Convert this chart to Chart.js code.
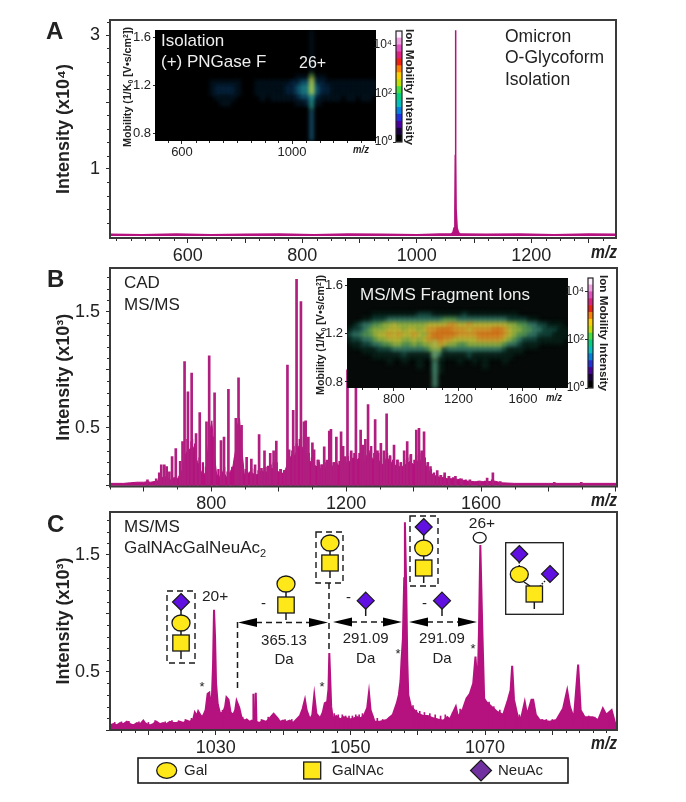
<!DOCTYPE html>
<html><head><meta charset="utf-8">
<style>
html,body{margin:0;padding:0;background:#fff;overflow:hidden}
#page{position:relative;width:686px;height:802px;overflow:hidden;font-family:"Liberation Sans",Arial,sans-serif}
canvas{position:absolute}
svg{position:absolute;left:0;top:0;pointer-events:none}
</style>
<script src="https://cdn.jsdelivr.net/npm/chart.js@4"></script>
</head><body><div id="page">
<canvas id="chartA"></canvas><canvas id="chartB"></canvas><canvas id="chartC"></canvas>
<canvas id="insetA"></canvas><canvas id="insetB"></canvas><canvas id="barA"></canvas><canvas id="barB"></canvas>
<svg id="ov" width="686" height="802"></svg>
</div>
<script>
// ---------- Panel A spectrum ----------
const aMz=[464,520,580,640,700,760,820,880,940,1000,1040,1060,1063,1065,1066.5,1067.2,1067.6,1068.2,1068.7,1070.5,1073,1076,1080,1120,1180,1240,1300,1348];
const aI=[.025,.02,.03,.02,.025,.03,.02,.03,.025,.02,.03,.03,.05,.12,.4,1.2,3.07,1.2,.4,.12,.05,.03,.03,.025,.03,.02,.03,.025];
// ---------- Panel B spectrum: continuum + sticks ----------
const bEnvMz=[500,540,560,580,600,612,620,640,650,660,670,680,690,700,708,716,722,730,738,746,752,760,768,776,784,790,797,802,808,816,824,832,840,848,856,864,872,878,884,890,898,906,914,922,930,940,950,960,970,980,990,1000,1010,1020,1030,1040,1048,1056,1064,1072,1080,1090,1100,1110,1120,1130,1140,1150,1160,1170,1180,1190,1200,1210,1220,1230,1240,1250,1260,1270,1280,1290,1300,1310,1320,1330,1340,1350,1360,1370,1380,1390,1400,1410,1420,1430,1440,1450,1460,1470,1480,1490,1500,1520,1540,1560,1580,1600,1620,1640,1660,1700,1800,1900,2000];
const bEnvI=[.02,.02,.025,.03,.03,.035,.03,.04,.06,.08,.07,.05,.07,.06,.10,.14,.26,.30,.32,.34,.26,.20,.14,.08,.12,.30,.48,.56,.30,.10,.07,.12,.10,.06,.12,.16,.30,.52,.58,.34,.10,.09,.12,.11,.09,.10,.13,.11,.13,.15,.14,.12,.10,.14,.22,.27,.26,.32,.36,.32,.28,.22,.19,.17,.15,.15,.16,.16,.17,.17,.18,.19,.18,.21,.24,.22,.24,.19,.22,.28,.22,.26,.20,.18,.24,.22,.17,.18,.16,.17,.19,.21,.18,.21,.22,.20,.16,.11,.09,.08,.07,.07,.06,.06,.05,.04,.035,.035,.035,.04,.025,.02,.02,.02,.02];
const bPeakMz=[614,640,649,655,664,671,679,687,698,711,718,724,734,745,758,769,789,797,813,832,841,854,876,884,893,908,922,933,945,952,961,970,978,988,996,1009,1020,1029,1034,1046,1056,1069,1078,1083,1091,1103,1108,1121,1130,1138,1146,1153,1158,1166,1174,1188,1194,1200,1207,1218,1232,1246,1252,1260,1268,1276,1289,1296,1306,1315,1323,1333,1345,1355,1365,1375,1384,1395,1411,1419,1427,1434,1445,1453,1462,1473,1484,1495,1508,1527,1545,1570,1600,1621,1638,1660,1820,1900];
const bPeakI=[.05,.06,.11,.18,.18,.165,.12,.25,.32,.21,.38,1.07,.81,.97,.45,.63,.55,1.12,.80,.39,.42,.83,.58,.93,.52,.245,.23,.18,.44,.15,.30,.16,.28,.30,.385,.14,.13,1.04,.31,.65,1.78,1.587,.55,.56,.42,.37,.31,.22,.18,.336,.22,.47,.485,.2,.42,.465,.34,.25,1.0,.3,.95,.48,.35,.4,.70,.3,.57,.3,.365,.3,.62,.25,.35,.22,.2,.3,.38,.27,.48,.495,.3,.465,.2,.165,.1,.13,.09,.11,.08,.08,.06,.05,.04,.066,.11,.035,.03,.03];
const bSmallMz=[727,739,741,750,763,773,782,793,805,819,827,836,846,860,868,900,904,916,927,938,956,966,974,983,992,1003,1014,1024,1038,1042,1051,1060,1064,1074,1087,1096,1113,1117,1126,1134,1142,1150,1162,1170,1178,1183,1192,1197,1203,1212,1222,1227,1237,1256,1264,1272,1281,1285,1293,1301,1311,1319,1328,1337,1350,1360,1370,1379,1389,1400,1405,1415,1423,1431,1440,1449,1458,1467,1478,1490,1502,1515,1535,1552,1590,1610,1630];
const bSmallI=[.4,.38,.4,.36,.24,.2,.16,.4,.42,.14,.13,.16,.12,.16,.24,.14,.12,.15,.14,.13,.16,.17,.18,.2,.2,.14,.13,.22,.3,.34,.36,.4,.42,.34,.28,.24,.22,.2,.18,.2,.19,.2,.2,.19,.21,.22,.22,.2,.25,.28,.28,.26,.28,.26,.3,.34,.28,.3,.28,.24,.22,.28,.26,.22,.22,.2,.22,.24,.26,.22,.26,.28,.28,.24,.2,.14,.11,.1,.09,.09,.08,.07,.06,.05,.04,.04,.05];
// ---------- Panel C spectrum ----------
const cMz=[1014.3,1014.8,1015.3,1015.8,1016.3,1016.8,1017.3,1017.8,1018.3,1018.8,1019.25,1019.5,1019.75,1020.25,1020.7,1021.2,1021.7,1022.2,1022.7,1023.2,1023.7,1024.2,1024.7,1025.2,1025.7,1026.2,1026.7,1026.9,1027.2,1027.4,1027.7,1028,1028.2,1028.5,1028.8,1029.05,1029.2,1029.45,1029.6,1029.75,1029.9,1030.05,1030.3,1030.65,1031.1,1031.4,1031.6,1031.9,1032.2,1032.6,1032.9,1033.1,1033.5,1033.85,1034.3,1034.6,1035,1035.35,1035.55,1035.6,1035.7,1035.85,1035.95,1036.05,1036.5,1037,1037.5,1038,1038.6,1039.2,1039.54,1040,1040.5,1041,1041.5,1042,1042.5,1042.9,1043.25,1043.5,1044,1044.35,1044.64,1044.95,1045.5,1045.9,1046.2,1046.55,1046.75,1046.87,1047,1047.15,1047.4,1047.9,1048.5,1049,1049.5,1050,1050.5,1051,1051.5,1052,1052.5,1052.76,1053,1053.6,1054.4,1055.4,1056.3,1056.9,1057.2,1057.45,1057.6,1057.8,1058,1058.1,1058.3,1058.45,1058.6,1059,1059.5,1060,1060.8,1061.5,1062.3,1063,1063.8,1064.4,1064.77,1065.66,1066,1066.75,1067.25,1067.75,1068.25,1068.58,1068.9,1069.1,1069.3,1069.6,1069.87,1070.2,1070.95,1071.7,1072.7,1073.4,1073.8,1074.03,1074.3,1074.9,1075.4,1075.9,1076.25,1076.9,1077.15,1077.55,1078.1,1079.6,1080.6,1081.6,1082.2,1082.6,1083.2,1083.83,1084.2,1084.8,1086,1086.8,1087.5,1088,1088.8,1089.4,1089.6];
const cI=[.04,.05,.04,.06,.05,.07,.05,.04,.06,.05,.08,.06,.05,.04,.05,.07,.05,.06,.05,.07,.06,.06,.07,.06,.08,.07,.10,.15,.12,.16,.13,.11,.13,.17,.31,.32,.2,.30,.55,1.03,.8,.4,.22,.14,.15,.2,.28,.26,.15,.13,.17,.25,.19,.10,.08,.09,.07,.08,.07,.31,.07,.07,.32,.07,.06,.08,.07,.1,.14,.1,.07,.08,.07,.08,.06,.09,.12,.18,.26,.17,.09,.13,.30,.14,.10,.15,.23,.24,.35,.66,.45,.2,.10,.12,.09,.11,.10,.09,.10,.11,.10,.12,.19,.32,.17,.07,.07,.085,.13,.23,.30,.42,.60,.78,1.3,1.78,1.2,.6,.30,.2,.17,.14,.12,.12,.10,.09,.08,.11,.09,.2,.11,.185,.27,.31,.40,.63,.35,.85,1.585,.85,.27,.24,.20,.16,.13,.257,.34,.55,.26,.10,.11,.24,.13,.26,.26,.13,.085,.07,.085,.185,.34,.2,.10,.56,.17,.11,.11,.085,.185,.13,.17,.04,.05];
const cFuzzMz=[1015,1016,1017.1,1018.6,1020,1021,1022.5,1023.5,1024.5,1025.5,1026.4,1031,1034,1036.8,1037.8,1040.3,1041.3,1047.6,1048.2,1048.8,1049.3,1049.8,1050.3,1050.8,1051.3,1051.8,1053.3,1054,1054.8,1055.8,1059.3,1059.8,1060.3,1061,1061.8,1062.6,1063.4,1064.1,1065.2,1066.3,1070.6,1071.3,1072.2,1073,1074.6,1075.1,1076.6,1077.8,1078.5,1079.1,1080,1081,1082.9,1084.5,1085.4,1086.3,1087.2,1088.4,1089];
const cFuzzI=[.065,.07,.075,.07,.065,.08,.07,.08,.08,.09,.1,.17,.11,.09,.11,.09,.09,.14,.13,.13,.12,.12,.12,.13,.13,.14,.12,.1,.09,.11,.21,.17,.16,.15,.14,.13,.12,.13,.15,.18,.24,.2,.17,.17,.15,.13,.15,.11,.09,.09,.09,.12,.14,.14,.12,.11,.13,.15,.12];
// ---------- Axis ticks ----------
const aXLabeled=[600,800,1000,1200], aXMajor=[600,700,800,900,1000,1100,1200,1300];
const aYLabeled=[1,3], aYMajor=[1,2,3];
const bXLabeled=[800,1200,1600], bXMajor=[600,800,1000,1200,1400,1600,1800,2000];
const cXLabeled=[1030,1050,1070], cXMajor=[1020,1030,1040,1050,1060,1070,1080];
const bYLabeled=[.5,1.5], bYMajor=[0,.5,1,1.5];
const aXMinor=[475,500,525,550,575,625,650,675,725,750,775,825,850,875,925,950,975,1025,1050,1075,1125,1150,1175,1225,1250,1275,1325];
const aYMinor=[.2,.4,.6,.8,1.2,1.4,1.6,1.8,2.2,2.4,2.6,2.8,3.2];
const bXMinor=[500,700,900,1100,1300,1500,1700,1900];
const cXMinor=[1016,1018,1022,1024,1026,1028,1032,1034,1036,1038,1042,1044,1046,1048,1052,1054,1056,1058,1062,1064,1066,1068,1072,1074,1076,1078,1082,1084,1086,1088];
const bYMinor=[.1,.2,.3,.4,.6,.7,.8,.9,1.1,1.2,1.3,1.4,1.6,1.7,1.8];
// ---------- Ion mobility insets (intensity level per cell, m/z across, mobility down) ----------
const insetARows=[
"0000000000 0000000000 0000000000 0000000000 0000",
"0000000000 0000000000 0000000000 0000000000 0000",
"0000000000 0000000000 0000000000 0000000000 0000",
"0000000000 0000000000 0000000000 0000000000 0000",
"0000000000 0000000000 0000000000 0000000000 0000",
"0000000000 0000000000 0000000000 0000000000 0000",
"0000000000 0000000000 0000000000 0000000000 0000",
"0000000000 0000000000 0000000000 0000000000 0000",
"0000000000 0000000000 0000000000 0000000000 0000",
"0000000000 0000000000 0000000011 1111000000 0000",
"0000000000 0111111000 1111111223 3322111111 1111",
"0000000000 0122221000 1111112234 4432211111 1111",
"0000000000 0122221000 1111112234 4432211111 1111",
"0000000000 0011110000 0101111123 3321111011 0110",
"0000000000 0001100000 0000000011 2110000000 0000",
"0000000000 0000000000 0000000000 0000000000 0000",
"0000000000 0000000000 0000000000 0000000000 0000",
"0000000000 0000000000 0000000000 0000000000 0000",
"0000000000 0000000000 0000000000 0000000000 0000",
"0000000000 0000000000 0000000000 0000000000 0000",
"0000000000 0000000000 0000000000 0000000000 0000",
"0000000000 0000000000 0000000000 0000000000 0000"];
const insetBRows=[
"0000000000 0000000000 0000000000 0000000000 0000",
"0000000000 0000000000 0000000000 0000000000 0000",
"0000000000 0000000000 0000000000 0000000000 0000",
"0000000000 0000000000 0000000000 0000000000 0000",
"0000000000 0000000000 0000000000 0000000000 0000",
"0000000000 0000000000 0000000000 0000000000 0000",
"0000000000 0000000000 0000000000 0000000000 0000",
"0000011111 1111222111 1112111111 1111000000 0000",
"0001122233 3333333334 4433333333 3322221100 0000",
"0123344556 5555556666 7766766666 6655443322 1110",
"1223455566 6566567788 8777677778 8765544332 2211",
"2334456676 7667657888 8877778888 8765443322 2111",
"1223345566 6556567887 7666667777 7654322211 1110",
"0112233445 5445455776 5544555555 5433211100 0000",
"0001112223 3333334552 3333333333 3211100000 0000",
"0000011111 1211111331 1111211111 1110000000 0000",
"0000000010 0100100110 0010010100 0100000000 0000",
"0000000000 0000100110 0000000100 0000000000 0000",
"0000000000 0000000110 0000000000 0000000000 0000",
"0000000000 0000000000 0000000000 0000000000 0000",
"0000000000 0000000000 0000000000 0000000000 0000",
"0000000000 0000000000 0000000000 0000000000 0000"];
const paletteA=["#000","#041420","#082844","#125a7a","#1f8c98","#70d050","#d0e040"];
const paletteB=["#050a08","#082018","#154a40","#3a8070","#5fa55a","#a0c448","#d2cc3c","#eaa830","#ee8420"];
// the bright ion ridge that runs down each heat map
const spikeAMz=1071, spikeAMob=[1.66,1.30,1.27,1.12,1.00,.74], spikeAColor=["#0c2a44","#70d050","#d0e040","#30c0b0","#2080b0"], spikeAWidth=[1.5,3,4,3,2.5];
const spikeBMz=1054, spikeBMob=[1.15,1.07,.98,.75], spikeBColor=["#a0b848","#6c9c68","#4a8a70"], spikeBWidth=[6,5,5];
const colorbarColors=["#000000","#1a0040","#4a00a0","#2030e0","#0080e0","#00c0c0","#00d080","#40e040","#c0e000","#ffd000","#ff8000","#f02010","#e02080","#e050c0","#f0a0e0","#fff0ff"];
const barDecades=[0,2,4];
const barLabels={0:"10\u2070",2:"10\u00b2",4:"10\u2074"};
const inA={x:[600,1000],xMinor:[550,650,700,750,800,850,900,950,1050,1100,1150,1200,1250,1300],y:[.8,1.2,1.6]};
const inB={x:[800,1200,1600],xMinor:[600,700,900,1000,1100,1300,1400,1500,1700,1800],y:[.8,1.2,1.6]};

const INK="#2a2a2a", MAG="#b5127f", FONT='"Liberation Sans",Arial,sans-serif';
const xy=(xs,ys)=>xs.map((x,i)=>({x,y:ys[i]}));
const noPad=s=>{s.paddingTop=s.paddingBottom=s.paddingLeft=s.paddingRight=0;};

const minorPlugin={id:'minorTicks',afterDraw(c){
  const o=c.options.plugins.minorTicks; if(!o) return; const g=c.ctx,a=c.chartArea;
  g.save(); g.strokeStyle=INK; g.lineWidth=1; g.beginPath();
  (o.x||[]).forEach(v=>{const p=Math.round(c.scales.x.getPixelForValue(v))+.5;g.moveTo(p,a.bottom);g.lineTo(p,a.bottom+(o.len||3));});
  (o.y||[]).forEach(v=>{const p=Math.round(c.scales.y.getPixelForValue(v))+.5;g.moveTo(a.left,p);g.lineTo(a.left-(o.len||3),p);});
  g.stroke(); g.restore();
}};
const framePlugin={id:'frame',afterDraw(c){
  const a=c.chartArea,g=c.ctx,o=c.options.plugins.frame||{}; g.save(); g.strokeStyle=o.color||'#3a3a3a'; g.lineWidth=o.width||2;
  g.strokeRect(a.left,a.top,a.width,a.height); g.restore();
}};
const heatPlugin={id:'heat',beforeDatasetsDraw(c){
  const a=c.chartArea,g=c.ctx,o=c.options.plugins.heat; g.fillStyle=o.bg; g.fillRect(a.left,a.top,a.width,a.height);
  g.save(); g.filter='blur('+o.blur+'px)';
},afterDatasetsDraw(c){c.ctx.restore();}};

function setBox(id,L,T,W,H){const e=document.getElementById(id);e.width=W;e.height=H;e.style.left=L+'px';e.style.top=T+'px';e.style.width=W+'px';e.style.height=H+'px';return e;}
function axis(o){ // fixed scale gutters so the plot rectangle lands where it should
  return Object.assign({type:'linear',offset:false,border:{display:false},
    grid:{drawOnChartArea:false,drawTicks:true,tickLength:o.tl,color:INK,offset:false,lineWidth:1},
    ticks:{autoSkip:false,maxRotation:0,minRotation:0,color:o.color||'#222',font:{family:FONT,size:o.fs},padding:o.pad,
      callback:v=>o.labeled.some(l=>Math.abs(l-v)<1e-9)?(o.fmt?o.fmt(v):String(v)):''},
    afterBuildTicks(s){s.ticks=o.major.map(value=>({value}));},
    afterFit(s){if(o.gw!==undefined)s.width=o.gw;if(o.gh!==undefined)s.height=o.gh;noPad(s);},
    min:o.min,max:o.max},o.extra||{});
}
function panel(id,box,plot,datasets,xo,yo,title,minor){
  const [L,T,W,H]=box,[pl,pt,pr,pb]=plot; setBox(id,L,T,W,H);
  return new Chart(document.getElementById(id),{type:'line',data:{datasets},plugins:[minorPlugin,framePlugin],
    options:{responsive:false,animation:false,devicePixelRatio:1,
      layout:{autoPadding:false,padding:{left:0,right:L+W-pr,top:pt-T,bottom:0}},
      plugins:{legend:{display:false},tooltip:{enabled:false},minorTicks:minor,frame:{}},
      scales:{x:axis(Object.assign({gh:T+H-pb},xo)),
        y:axis(Object.assign({gw:pl-L,extra:{title:{display:true,text:title,color:'#222',font:{family:FONT,size:18,weight:'bold'},padding:{top:3,bottom:0}}}},yo))}}});
}
const lineSet=(xs,ys,w)=>({type:'line',data:xy(xs,ys),borderColor:MAG,backgroundColor:MAG,borderWidth:w,pointRadius:0,fill:'origin',tension:0,order:3});
const sticks=(xs,ys,w,color,order)=>({type:'bar',data:xy(xs,ys),backgroundColor:color,barThickness:w,order});
const XF={tl:5,fs:18,pad:2}, YF={tl:4,fs:18,pad:6};

panel('chartA',[50,10,610,262],[110,20,616,238],[lineSet(aMz,aI,1.5)],
  Object.assign({min:464,max:1348,labeled:aXLabeled,major:aXMajor},XF),
  Object.assign({min:-.03,max:3.224,labeled:aYLabeled,major:aYMajor},YF),'Intensity (x10\u2074)',{x:aXMinor,y:aYMinor});
panel('chartB',[50,262,610,250],[110,268,617,486.5],[
   lineSet(bEnvMz,bEnvI,1),sticks(bSmallMz,bSmallI,1.6,MAG,2),sticks(bPeakMz,bPeakI,2,'#b01e80',1)],
  Object.assign({min:500,max:2003,labeled:bXLabeled,major:bXMajor},XF),
  Object.assign({min:-.007,max:1.877,labeled:bYLabeled,major:bYMajor},YF),'Intensity (x10\u00b3)',{x:bXMinor,y:bYMinor});
panel('chartC',[50,506,610,250],[110,512,617,730],[lineSet(cMz,cI,2),sticks(cFuzzMz,cFuzzI,1,MAG,1)],
  Object.assign({min:1014.3,max:1089.6,labeled:cXLabeled,major:cXMajor},XF),
  Object.assign({min:0,max:1.868,labeled:bYLabeled,major:bYMajor},YF),'Intensity (x10\u00b3)',{x:cXMinor,y:bYMinor});

function heatPoints(rows,palette,xmin,xmax,ymin,ymax){
  const grid=rows.map(r=>r.replace(/ /g,'')),nr=grid.length,nc=grid[0].length,pts=[],cols=[];
  grid.forEach((r,i)=>{[...r].forEach((ch,j)=>{const lv=+ch;if(!lv)return;
    pts.push({x:xmin+(j+.5)*(xmax-xmin)/nc,y:ymax-(i+.5)*(ymax-ymin)/nr});cols.push(palette[lv]);});});
  return {pts,cols};
}
function inset(id,box,plot,rows,pal,range,ticks,bg,blur,rad,spike){
  const [L,T,W,H]=box,[pl,pt,pr,pb]=plot; setBox(id,L,T,W,H);
  const {pts,cols}=heatPoints(rows,pal,...range);
  return new Chart(document.getElementById(id),{type:'scatter',
    data:{datasets:[
      {data:spike.mob.map(y=>({x:spike.mz,y})),showLine:true,pointRadius:0,borderColor:spike.color[0],borderCapStyle:'butt',order:1,
       segment:{borderColor:c=>spike.color[c.p0DataIndex],borderWidth:c=>spike.width[c.p0DataIndex]}},
      {data:pts,pointStyle:'rect',pointRadius:rad,pointBorderWidth:0,pointBackgroundColor:cols,pointHoverRadius:rad,showLine:false,order:2}]},
    plugins:[heatPlugin,minorPlugin],
    options:{responsive:false,animation:false,devicePixelRatio:1,
      layout:{autoPadding:false,padding:{left:0,right:L+W-pr,top:pt-T,bottom:0}},
      plugins:{legend:{display:false},tooltip:{enabled:false},heat:{bg,blur},minorTicks:{x:ticks.xMinor,y:[],len:2}},
      scales:{
        x:axis({min:range[0],max:range[1],labeled:ticks.x,major:ticks.x,tl:3,fs:13,pad:1,gh:T+H-pb}),
        y:axis({min:range[2],max:range[3],labeled:ticks.y,major:ticks.y,tl:2,fs:13,pad:2,gw:pl-L,fmt:v=>v.toFixed(1)})}}});
}
inset('insetA',[131,24,250,135],[155,30,376,141],insetARows,paletteA,[502,1305,.74,1.66],inA,'#000',2,4.2,{mz:spikeAMz,mob:spikeAMob,color:spikeAColor,width:spikeAWidth});
inset('insetB',[324,272,250,135],[347,278,568,388],insetBRows,paletteB,[509,1879,.75,1.66],inB,'#050a08',2,4.4,{mz:spikeBMz,mob:spikeBMob,color:spikeBColor,width:spikeBWidth});

function colorbar(id,box,plot){
  const [L,T,W,H]=box,[pl,pt,pr,pb]=plot; setBox(id,L,T,W,H);
  const step=4.58/colorbarColors.length;
  new Chart(document.getElementById(id),{type:'bar',
    data:{labels:['c'],datasets:colorbarColors.map(c=>({data:[step],backgroundColor:c,barPercentage:1,categoryPercentage:1,stack:'s'}))},
    plugins:[framePlugin],
    options:{responsive:false,animation:false,devicePixelRatio:1,
      layout:{autoPadding:false,padding:{left:0,right:L+W-pr,top:pt-T,bottom:T+H-pb}},
      plugins:{legend:{display:false},tooltip:{enabled:false},frame:{color:'#222',width:1.2}},
      scales:{
        x:{stacked:true,display:false},
        y:{stacked:true,min:0,max:4.58,border:{display:false},grid:{drawOnChartArea:false,tickLength:3,color:INK},
          afterBuildTicks(s){s.ticks=barDecades.map(value=>({value}));},
          afterFit(s){s.width=pl-L;noPad(s);},
          ticks:{autoSkip:false,color:'#222',font:{family:FONT,size:12},padding:1,callback:v=>barLabels[v]}}}}});
}
colorbar('barA',[370,25,40,123],[396,31,402,142]);
colorbar('barB',[562,272,40,122],[588,278,593,388]);

// ---------- Annotations ----------
const Y='#ffe81a',P='#6010e0',K='#1a1a1a';
const gal=(x,y,fill=Y)=>`<ellipse cx="${x}" cy="${y}" rx="9" ry="8" fill="${fill}" stroke="${K}" stroke-width="1.3"/>`;
const sq=(x,y)=>`<rect x="${x-8.2}" y="${y-8}" width="16.4" height="16" fill="${Y}" stroke="${K}" stroke-width="1.3"/>`;
const dia=(x,y,r=8.5,fill=P)=>`<path d="M${x} ${y-r}L${x+r} ${y}L${x} ${y+r}L${x-r} ${y}Z" fill="${fill}" stroke="${K}" stroke-width="1.2"/>`;
const ln=(a,b,c,d,extra='')=>`<line x1="${a}" y1="${b}" x2="${c}" y2="${d}" stroke="${K}" stroke-width="1.5" ${extra}/>`;
const dash='stroke-dasharray="6 4"';
const box=(a,b,w,h)=>`<rect x="${a}" y="${b}" width="${w}" height="${h}" fill="none" stroke="${K}" stroke-width="1.4" ${dash}/>`;
const T=(s,x,y,size=15,attr='')=>`<text x="${x}" y="${y}" font-size="${size}" fill="#222" font-family='${FONT}' ${attr}>${s}</text>`;
const arrow=(a,b,y)=>ln(a+18,y,b-18,y,dash)+`<path d="M${a} ${y}L${a+19} ${y-4.5}L${a+19} ${y+4.5}Z" fill="#000"/><path d="M${b} ${y}L${b-19} ${y-4.5}L${b-19} ${y+4.5}Z" fill="#000"/>`;
const mz=(x,y,s=18)=>T('m/z',x,y,s,'font-weight="bold" font-style="italic" textLength="'+(s*1.45)+'" lengthAdjust="spacingAndGlyphs"');
const rot=(s,x,y,deg,size,len)=>`<text transform="translate(${x},${y}) rotate(${deg})" text-anchor="middle" font-size="${size}" font-weight="bold" fill="#222" font-family='${FONT}' textLength="${len}" lengthAdjust="spacingAndGlyphs">${s}</text>`;
const mob='Mobility (1/K<tspan font-size="7" dy="2">0</tspan><tspan dy="-2"> [V\u2022s/cm</tspan><tspan font-size="7" dy="-3">2</tspan><tspan dy="3">])</tspan>';
let s='';
s+=T('A',46,39,24,'font-weight="bold"')+T('B',47,287,24,'font-weight="bold"')+T('C',47,532,24,'font-weight="bold"');
s+=T('Omicron',505,42,17.5)+T('O-Glycoform',505,63,17.5)+T('Isolation',505,85,17.5);
s+=T('CAD',124,288,17)+T('MS/MS',124,310,17);
s+=T('MS/MS',124,532,17)+T('GalNAcGalNeuAc<tspan font-size="11" dy="4">2</tspan>',124,553,17);
s+=mz(591,258)+mz(591,506)+mz(591,749);
// inset text
s+=T('Isolation',161,46,17,'style="fill:#eee"')+T('(+) PNGase F',161,67,17,'style="fill:#eee"')+T('26+',299,68,16,'style="fill:#eee"');
s+=T('MS/MS Fragment Ions',360,300,17,'style="fill:#eee"');
s+=rot(mob,131,87,-90,11,120)+rot(mob,324,335,-90,11,120);
s+=mz(353,153,11)+mz(546,401,11);
s+=rot('Ion Mobility Intensity',406,87,90,11,116)+rot('Ion Mobility Intensity',600,333,90,11,116);
// panel C glycans
s+=box(167,591,28,72)+ln(181,610,181,615)+ln(181,630,181,635)+ln(181,651,181,659)+dia(181,602)+gal(181,623)+sq(181,643);
s+=T('20+',202,601,15.5);
s+=ln(286,592,286,597)+ln(286,613,286,620)+gal(286,584)+sq(286,605)+T('-',261,608,15);
s+=arrow(238,328,622.5)+ln(237.5,622,237.5,690,dash)+ln(329,583,329,650,dash);
s+=T('365.13',284,645,15,'text-anchor="middle"')+T('Da',284,664,15,'text-anchor="middle"');
s+=box(316,532,27,51)+ln(330,551,330,555)+ln(330,571,330,578)+gal(330,543)+sq(330,563);
s+=arrow(333,402,622)+ln(365.7,609,365.7,616)+dia(365.7,600.7)+T('-',346,602,15);
s+=T('291.09',365.7,643,15,'text-anchor="middle"')+T('Da',365.7,663,15,'text-anchor="middle"');
s+=arrow(409,477,622)+ln(442,609,442,616)+dia(442,600.7)+T('-',422,608,15);
s+=T('291.09',442,643,15,'text-anchor="middle"')+T('Da',442,663,15,'text-anchor="middle"');
s+=box(410,516,28,70)+ln(423.7,535,423.7,540)+ln(423.7,556,423.7,560)+ln(423.7,576,423.7,583)+dia(423.7,527)+gal(423.7,548)+sq(423.7,568);
s+=T('26+',482,528,15.5,'text-anchor="middle"')+`<ellipse cx="479.7" cy="537.7" rx="6.5" ry="5.3" fill="#fff" stroke="${K}" stroke-width="1.3"/>`;
s+=`<rect x="505.7" y="542.7" width="57.6" height="71.6" fill="#fff" stroke="${K}" stroke-width="1.3"/>`;
s+=ln(519.3,562,519.3,567,'stroke-dasharray="1.5 1.5"')+ln(524,582,530,586)+ln(545,581,540,586,'stroke-dasharray="1.5 1.5"')+ln(534.3,602,534.3,609);
s+=dia(519.3,554)+gal(519.3,574.3)+dia(550,574)+sq(534.3,594);
[[202,691],[322,691],[398,658],[473,653]].forEach(a=>s+=T('*',a[0],a[1],13,'text-anchor="middle"'));
// legend
s+=`<rect x="138" y="758" width="430" height="25" fill="#fff" stroke="${K}" stroke-width="1.6"/>`;
s+=`<ellipse cx="166.7" cy="770.5" rx="10" ry="7.8" fill="${Y}" stroke="${K}" stroke-width="1.3"/>`+T('Gal',184,775,15);
s+=`<rect x="303.7" y="762" width="17" height="17" fill="${Y}" stroke="${K}" stroke-width="1.3"/>`+T('GalNAc',332,775,15);
s+=dia(481,770.5,10.5,'#7030a0')+T('NeuAc',498,775,15);
document.getElementById('ov').innerHTML=s;
</script></body></html>
